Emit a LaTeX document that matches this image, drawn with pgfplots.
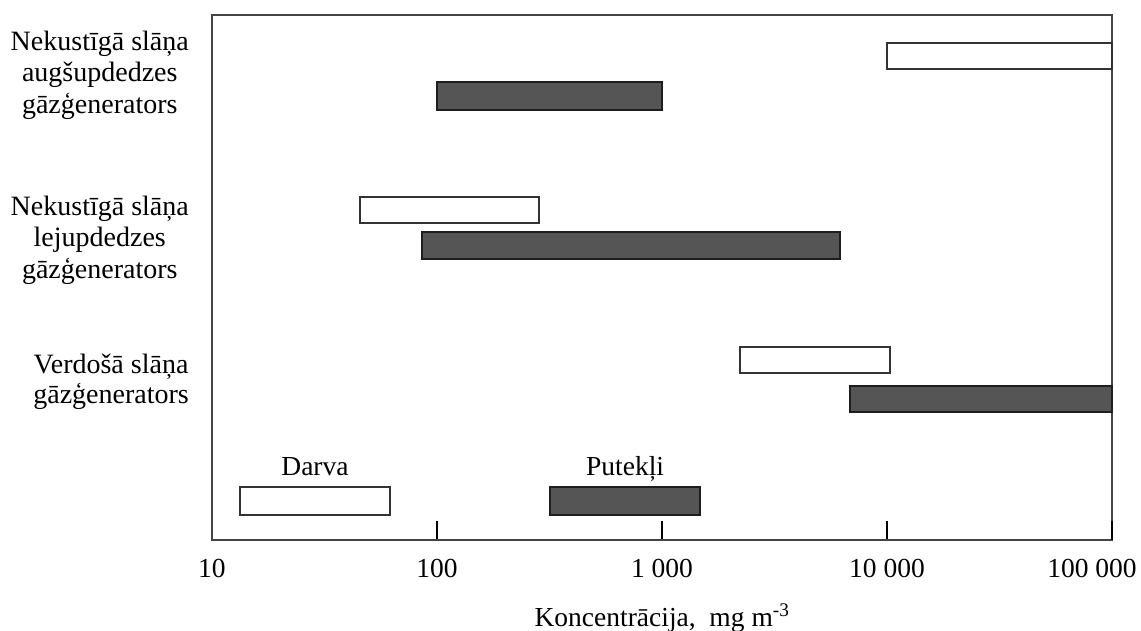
\documentclass[border=0pt]{standalone}
\usepackage{fontspec}
\setmainfont{Liberation Serif}
\usepackage{pgfplots}
\pgfplotsset{compat=1.18}
\definecolor{darkfill}{HTML}{555555}
\definecolor{darkedge}{HTML}{1E1E1E}
\definecolor{lightedge}{HTML}{333333}
\definecolor{axisgray}{HTML}{444444}
\begin{document}
\begin{tikzpicture}
\begin{axis}[
  name=ax,
  scale only axis,
  width=900pt, height=525pt,
  xmode=log, log basis x=10,
  xmin=10, xmax=100000,
  ymin=0, ymax=525,
  clip=false,
  axis line style={axisgray, line width=1.6pt},
  xtick={10,100,1000,10000},
  xticklabels={10,100,{1 000},{10 000}},
  extra x ticks={100000},
  extra x tick labels={100 000},
  extra x tick style={xticklabel style={xshift=-20pt}},
  xtick pos=bottom,
  ytick=\empty,
  minor x tick num=0,
  tick align=inside,
  major tick length=19pt,
  tick style={black, line width=1.5pt},
  xticklabel style={font=\fontsize{27.5}{31}\selectfont, anchor=base, yshift=-37pt, inner sep=0pt},
  xlabel={Koncentrācija,\ \ mg m\textsuperscript{-3}},
  xlabel style={font=\fontsize{27.5}{31}\selectfont, at={(axis description cs:0.5,0)}, anchor=base, yshift=-86pt, inner sep=0pt},
]
% Row 1: Nekustīgā slāņa augšupdedzes
\addplot[draw=lightedge, fill=white, line width=1.6pt] coordinates {(10000,471) (100000,471) (100000,497) (10000,497)} -- cycle;
\addplot[draw=darkedge, fill=darkfill, line width=1.6pt] coordinates {(100,430) (1000,430) (1000,458) (100,458)} -- cycle;
% Row 2: Nekustīgā slāņa lejupdedzes
\addplot[draw=lightedge, fill=white, line width=1.6pt] coordinates {(45.5,317) (284,317) (284,343) (45.5,343)} -- cycle;
\addplot[draw=darkedge, fill=darkfill, line width=1.6pt] coordinates {(85.8,281) (6180,281) (6180,308) (85.8,308)} -- cycle;
% Row 3: Verdošā slāņa
\addplot[draw=lightedge, fill=white, line width=1.6pt] coordinates {(2222,167) (10300,167) (10300,193) (2222,193)} -- cycle;
\addplot[draw=darkedge, fill=darkfill, line width=1.6pt] coordinates {(6850,128) (100000,128) (100000,154) (6850,154)} -- cycle;
% Legend boxes
\addplot[draw=lightedge, fill=white, line width=1.6pt] coordinates {(13.3,25) (61.8,25) (61.8,53) (13.3,53)} -- cycle;
\addplot[draw=darkedge, fill=darkfill, line width=1.6pt] coordinates {(318,25) (1475,25) (1475,53) (318,53)} -- cycle;
\node[anchor=base, inner sep=0pt, font=\fontsize{27.5}{31}\selectfont] at (axis cs:28.7,65) {Darva};
\node[anchor=base, inner sep=0pt, font=\fontsize{27.5}{31}\selectfont] at (axis cs:686,65) {Putekļi};
% Row labels
\node[anchor=east, align=center, inner sep=0pt, xshift=-23pt, font=\fontsize{28}{31.5}\selectfont] at (axis cs:10,465) {Nekustīgā slāņa\\augšupdedzes\\gāzģenerators};
\node[anchor=east, align=center, inner sep=0pt, xshift=-23pt, font=\fontsize{28}{31.5}\selectfont] at (axis cs:10,300) {Nekustīgā slāņa\\lejupdedzes\\gāzģenerators};
\node[anchor=east, align=center, inner sep=0pt, xshift=-23pt, font=\fontsize{28}{30}\selectfont] at (axis cs:10,158) {Verdošā slāņa\\gāzģenerators};
\end{axis}
\pgfresetboundingbox
\path[use as bounding box] ([shift={(-212pt,-90pt)}]ax.south west) rectangle ([shift={(29pt,15pt)}]ax.north east);
\end{tikzpicture}
\end{document}
